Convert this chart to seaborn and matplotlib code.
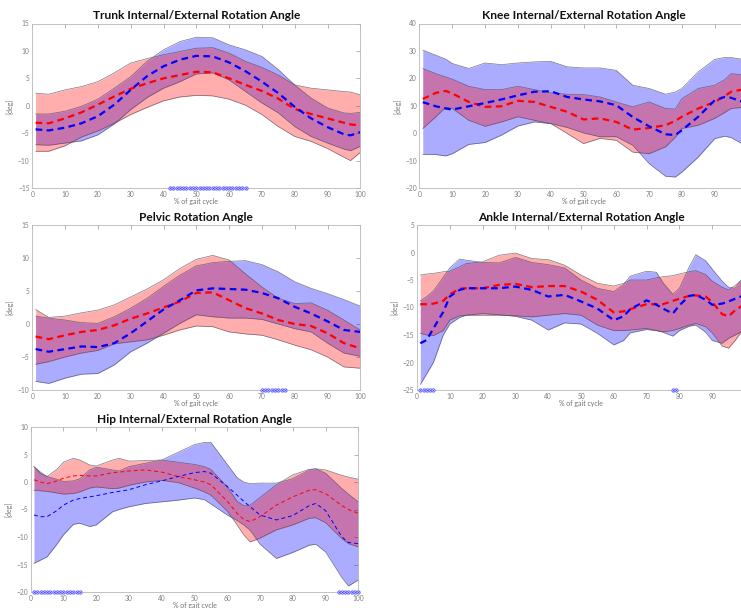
import matplotlib
matplotlib.use("Agg")
import matplotlib.pyplot as plt
import numpy as np
import pandas as pd
import seaborn as sns

# ---------------- Trunk internal/external rotation ----------------
trunk_x = [1, 5, 10, 15, 20, 25, 30, 35, 40, 45, 50, 55, 60, 65, 70, 75, 80, 85, 90, 95, 97, 100]
trunk_red_mean = [-3.1, -3.2, -2.3, -1.2, 0.2, 1.7, 3.1, 4.1, 5.0, 5.6, 6.2, 6.1, 5.0, 3.8, 2.7, 1.3, -0.6, -1.5, -2.3, -3.1, -3.4, -3.6]
trunk_red_hi = [2.3, 2.1, 2.9, 3.5, 4.4, 6.0, 7.8, 8.6, 9.3, 9.9, 10.5, 10.6, 9.6, 8.1, 7.0, 5.6, 3.8, 3.2, 2.9, 2.6, 2.5, 2.0]
trunk_red_lo = [-8.3, -8.3, -7.3, -5.7, -4.6, -3.2, -1.6, -0.3, 0.9, 1.6, 1.9, 1.8, 1.2, 0.1, -1.6, -3.8, -5.6, -6.5, -7.8, -9.4, -10.0, -8.5]
trunk_blue_mean = [-4.3, -4.5, -4.0, -3.2, -1.9, 0.2, 2.9, 5.4, 7.2, 8.4, 9.1, 9.0, 7.9, 6.3, 4.4, 2.3, -0.2, -2.3, -3.9, -5.2, -5.4, -4.8]
trunk_blue_hi = [-1.5, -1.5, -1.0, -0.1, 1.2, 3.2, 5.3, 8.1, 10.2, 11.7, 12.5, 12.4, 11.1, 10.2, 9.0, 6.6, 3.8, 1.4, -0.4, -1.3, -1.4, -1.2]
trunk_blue_lo = [-7.1, -7.2, -6.8, -6.4, -5.3, -3.3, -0.7, 1.5, 3.2, 4.4, 5.8, 6.0, 4.7, 2.6, 0.5, -1.3, -3.8, -5.6, -6.8, -7.9, -8.2, -7.4]
trunk_sig = list(range(42, 66))

# ---------------- Knee internal/external rotation ----------------
knee_x = [1, 5, 8, 10, 15, 20, 25, 30, 35, 40, 45, 50, 55, 60, 65, 70, 75, 78, 80, 85, 90, 93, 95, 100]
knee_red_mean = [12.5, 14.7, 15.4, 14.5, 11.4, 9.6, 9.8, 11.8, 11.4, 9.6, 7.8, 5.0, 5.4, 4.1, 1.3, 1.9, 2.9, 4.5, 6.0, 9.0, 11.4, 13.5, 15.1, 16.3]
knee_red_hi = [23.6, 21.7, 20.5, 19.7, 17.1, 15.9, 15.9, 17.1, 15.9, 14.7, 14.2, 14.1, 13.2, 11.4, 9.6, 11.4, 9.0, 8.8, 12.6, 16.3, 17.5, 19.5, 21.7, 21.1]
knee_red_lo = [1.7, 6.0, 9.5, 9.0, 4.7, 2.5, 4.1, 6.0, 4.7, 3.5, -0.1, -3.8, -1.9, -2.6, -6.9, -7.5, -5.0, -1.5, 1.7, 2.9, 5.4, 7.5, 9.0, 9.6]
knee_blue_mean = [11.3, 9.8, 9.0, 8.6, 9.8, 11.0, 12.3, 13.8, 15.1, 15.3, 13.2, 12.3, 11.6, 10.2, 5.9, 2.5, -0.4, -0.7, 1.1, 6.0, 12.0, 13.2, 12.9, 10.8]
knee_blue_hi = [30.3, 28.4, 27.0, 25.4, 23.6, 25.6, 25.0, 25.6, 26.0, 26.2, 24.2, 23.8, 23.8, 22.9, 17.5, 16.3, 14.2, 15.0, 16.3, 22.4, 26.9, 27.6, 27.6, 26.6]
knee_blue_lo = [-7.7, -7.8, -8.3, -7.5, -4.1, -3.4, -0.7, 2.6, 4.1, 3.5, 2.1, 0.1, -1.3, -1.3, -4.4, -11.1, -15.7, -16.0, -14.2, -8.7, -2.0, -1.1, -1.6, -5.0]
knee_sig = []

# ---------------- Pelvic rotation ----------------
pelvis_x = [1, 5, 10, 15, 20, 25, 30, 35, 40, 45, 50, 55, 60, 65, 70, 75, 80, 85, 90, 95, 100]
pelvis_red_mean = [-1.9, -2.3, -1.7, -1.2, -0.9, -0.2, 0.8, 1.6, 2.5, 3.4, 4.7, 4.8, 3.6, 2.4, 1.6, 0.6, 0.0, -0.3, -1.4, -2.9, -3.7]
pelvis_red_hi = [2.2, 1.0, 1.2, 1.7, 2.1, 2.9, 4.1, 5.3, 6.7, 8.4, 9.8, 10.4, 9.7, 7.6, 5.6, 3.9, 3.1, 3.2, 2.1, 0.6, -0.9]
pelvis_red_lo = [-6.1, -5.7, -5.0, -4.4, -4.0, -3.0, -2.7, -2.4, -1.7, -0.9, -0.3, -0.4, -1.2, -1.5, -1.7, -2.4, -3.2, -3.9, -5.0, -6.5, -6.7]
pelvis_blue_mean = [-3.8, -4.2, -3.8, -3.4, -3.5, -2.9, -1.4, 0.4, 2.2, 3.6, 5.1, 5.4, 5.3, 5.2, 4.7, 3.9, 2.6, 1.6, 0.4, -0.9, -1.2]
pelvis_blue_hi = [1.2, 0.9, 0.6, 0.2, 0.1, 1.1, 2.4, 3.9, 5.7, 7.4, 8.8, 9.3, 9.5, 9.6, 9.0, 7.9, 6.4, 5.4, 4.6, 3.7, 2.7]
pelvis_blue_lo = [-8.7, -9.0, -8.2, -7.6, -7.5, -6.2, -4.2, -2.9, -1.4, 0.1, 1.4, 1.1, 0.9, 0.9, 0.7, 0.0, -0.7, -1.2, -2.9, -4.4, -4.9]
pelvis_sig = list(range(70, 78))

# ---------------- Ankle internal/external rotation ----------------
ankle_x = [1, 3, 5, 8, 10, 13, 15, 20, 25, 30, 35, 40, 45, 50, 55, 60, 63, 65, 70, 73, 75, 78, 80, 83, 85, 88, 90, 93, 95, 97, 100]
ankle_red_mean = [-9.4, -9.4, -9.3, -8.8, -7.6, -6.6, -6.5, -6.5, -5.9, -5.7, -6.3, -6.1, -6.1, -7.1, -8.6, -10.9, -10.7, -10.3, -9.4, -9.4, -9.4, -8.8, -8.4, -7.9, -7.8, -8.0, -9.0, -11.2, -11.6, -10.5, -9.3]
ankle_red_hi = [-4.1, -3.9, -3.8, -3.5, -3.4, -2.6, -2.0, -1.7, -0.5, -0.1, -1.1, -1.3, -2.3, -4.1, -5.6, -6.1, -5.6, -5.0, -5.0, -4.6, -4.4, -4.2, -3.9, -3.5, -3.3, -4.0, -5.2, -6.3, -6.8, -6.0, -4.5]
ankle_red_lo = [-14.7, -15.0, -15.1, -14.2, -12.3, -11.5, -11.4, -11.4, -11.4, -11.5, -11.7, -11.4, -11.1, -11.4, -13.2, -14.2, -14.2, -14.1, -13.8, -14.2, -14.4, -14.2, -13.8, -13.2, -12.9, -13.5, -14.6, -17.0, -17.4, -16.0, -13.5]
ankle_blue_mean = [-16.5, -15.9, -13.8, -10.8, -8.0, -6.8, -6.5, -6.5, -6.5, -6.2, -6.8, -8.0, -7.7, -8.9, -10.2, -12.3, -11.6, -10.3, -8.7, -9.5, -10.2, -11.1, -9.6, -7.9, -7.7, -8.6, -9.5, -9.3, -8.9, -8.4, -7.7]
ankle_blue_hi = [-8.8, -8.0, -7.0, -4.5, -2.8, -1.2, -1.4, -1.8, -1.9, -0.9, -1.8, -2.2, -2.8, -5.0, -6.5, -7.1, -5.8, -4.3, -3.4, -3.6, -5.5, -7.6, -6.5, -2.6, -0.4, -1.5, -3.0, -5.2, -6.3, -6.5, -4.0]
ankle_blue_lo = [-24.0, -22.0, -20.0, -15.0, -13.0, -11.8, -11.4, -11.1, -11.3, -11.6, -12.3, -14.1, -12.8, -13.0, -14.7, -16.8, -16.0, -14.6, -14.0, -14.2, -14.5, -15.2, -14.2, -13.4, -13.2, -14.5, -16.0, -16.5, -15.6, -15.0, -14.0]
ankle_sig = [1, 2, 3, 4, 5, 78, 79]

# ---------------- Hip internal/external rotation ----------------
hip_x = [1, 3, 5, 8, 10, 13, 15, 18, 20, 25, 27, 30, 35, 40, 45, 50, 53, 55, 60, 63, 65, 67, 70, 75, 80, 85, 87, 90, 95, 97, 100]
hip_red_mean = [0.4, 0.0, -0.3, 0.2, 0.7, 1.1, 1.2, 1.1, 1.1, 1.7, 1.8, 2.0, 2.2, 1.8, 1.0, 0.4, 0.0, -0.5, -3.5, -5.7, -6.8, -7.2, -6.3, -4.2, -2.7, -1.5, -1.4, -2.1, -4.3, -5.0, -5.7]
hip_red_hi = [2.8, 1.5, 1.0, 2.3, 3.6, 4.3, 4.0, 3.1, 2.9, 4.0, 4.3, 3.8, 3.9, 4.0, 3.6, 3.2, 2.8, 2.3, -0.9, -3.5, -4.3, -4.2, -2.8, -0.5, 1.3, 2.3, 2.4, 2.2, 1.2, 0.9, 0.5]
hip_red_lo = [-1.5, -1.6, -1.7, -2.0, -2.2, -2.1, -1.8, -1.1, -0.9, -1.2, -1.1, -0.6, 0.0, 0.3, -0.1, -1.1, -1.8, -2.4, -5.3, -7.8, -9.6, -10.9, -10.2, -8.7, -7.8, -6.6, -6.5, -7.4, -10.3, -11.2, -11.8]
hip_blue_mean = [-6.0, -6.3, -6.3, -5.2, -4.2, -3.3, -3.0, -2.7, -2.5, -1.9, -1.7, -1.4, -0.5, 0.2, 1.0, 1.7, 1.9, 1.6, -0.8, -2.4, -3.5, -4.5, -6.0, -6.9, -6.1, -4.3, -3.9, -5.2, -10.0, -11.0, -11.2]
hip_blue_hi = [2.8, 1.8, 1.0, 0.5, 0.1, 0.2, 0.6, 2.2, 2.7, 2.2, 2.0, 2.8, 3.4, 4.0, 5.4, 6.8, 7.2, 7.2, 3.2, 0.8, 0.0, -0.3, -0.2, -0.2, 0.6, 2.2, 2.4, 1.6, -1.2, -2.2, -3.6]
hip_blue_lo = [-14.8, -14.2, -13.6, -11.3, -9.6, -7.7, -7.5, -8.1, -7.8, -5.4, -5.0, -4.5, -3.9, -3.6, -3.3, -2.9, -3.2, -4.0, -6.0, -7.0, -7.8, -8.8, -11.3, -13.9, -12.8, -11.5, -11.3, -12.7, -17.4, -18.9, -17.8]
hip_sig = list(range(1, 16)) + list(range(94, 101))

titles = ["Trunk Internal/External Rotation Angle",
          "Knee Internal/External Rotation Angle",
          "Pelvic Rotation Angle",
          "Ankle Internal/External Rotation Angle",
          "Hip Internal/External Rotation Angle"]
x_ticks = [0, 10, 20, 30, 40, 50, 60, 70, 80, 90, 100]
x_label = "% of gait cycle"
y_label = "[deg]"

sns.set_theme(style="white")
plt.rcParams["font.family"] = ["Lato", "DejaVu Sans"]

W, H = 741, 608
fig = plt.figure(figsize=(W / 100, H / 100), dpi=100)


def px_axes(left, top, width, height):
    return fig.add_axes([left / W, 1 - (top + height) / H, width / W, height / H])


panels = [
    dict(box=(32.3, 23.5, 328, 164.5), ylim=(-15, 15), ystep=5, lw=1.6, edge=False,
         x=trunk_x, rm=trunk_red_mean, rh=trunk_red_hi, rl=trunk_red_lo,
         bm=trunk_blue_mean, bh=trunk_blue_hi, bl=trunk_blue_lo, sig=trunk_sig),
    dict(box=(419.5, 23.5, 328, 164.5), ylim=(-20, 40), ystep=10, lw=1.6, edge=True,
         x=knee_x, rm=knee_red_mean, rh=knee_red_hi, rl=knee_red_lo,
         bm=knee_blue_mean, bh=knee_blue_hi, bl=knee_blue_lo, sig=knee_sig),
    dict(box=(32.3, 225, 328, 165), ylim=(-10, 15), ystep=5, lw=1.6, edge=False,
         x=pelvis_x, rm=pelvis_red_mean, rh=pelvis_red_hi, rl=pelvis_red_lo,
         bm=pelvis_blue_mean, bh=pelvis_blue_hi, bl=pelvis_blue_lo, sig=pelvis_sig),
    dict(box=(417, 225, 328, 165), ylim=(-25, 5), ystep=5, lw=1.6, edge=True,
         x=ankle_x, rm=ankle_red_mean, rh=ankle_red_hi, rl=ankle_red_lo,
         bm=ankle_blue_mean, bh=ankle_blue_hi, bl=ankle_blue_lo, sig=ankle_sig),
    dict(box=(30.7, 427, 327.6, 165), ylim=(-20, 10), ystep=5, lw=0.7, edge=False,
         x=hip_x, rm=hip_red_mean, rh=hip_red_hi, rl=hip_red_lo,
         bm=hip_blue_mean, bh=hip_blue_hi, bl=hip_blue_lo, sig=hip_sig),
]

RED = "#ff0000"
BLUE = "#0000ff"
EDGE = "#4a4a5a"

for title, p in zip(titles, panels):
    ax = px_axes(*p["box"])
    x = np.asarray(p["x"], dtype=float)

    # standard-deviation bands (blue beneath, red on top)
    ax.fill_between(x, p["bl"], p["bh"], color=BLUE, alpha=0.33, lw=0, zorder=1)
    ax.fill_between(x, p["rl"], p["rh"], color=RED, alpha=0.32, lw=0, zorder=2)
    for key in ("bl", "bh", "rl", "rh"):
        ax.plot(x, p[key], color=EDGE, lw=0.5, alpha=0.75, zorder=3)

    # group means as dashed lines
    df = pd.DataFrame({"x": np.concatenate([x, x]),
                       "angle": np.concatenate([p["rm"], p["bm"]]),
                       "group": ["red"] * len(x) + ["blue"] * len(x)})
    dash = (0, (3.0, 2.0)) if p["lw"] > 1 else (0, (4.0, 3.0))
    for grp, col in (("red", RED), ("blue", BLUE)):
        sns.lineplot(data=df[df["group"] == grp], x="x", y="angle", color=col,
                     lw=p["lw"], linestyle=dash, estimator=None, sort=False,
                     errorbar=None, ax=ax, zorder=4)

    # significant-difference markers along the bottom axis
    if p["sig"]:
        ymark = np.full(len(p["sig"]), p["ylim"][0], dtype=float)
        ax.plot(p["sig"], ymark, ls="none", marker="o", ms=2.6,
                mfc="#c4c4ff", mec="#7070ff", mew=0.45, clip_on=False, zorder=6)
        ax.plot(p["sig"], ymark, ls="none", marker="x", ms=1.8,
                mec="#5050ff", mew=0.4, clip_on=False, zorder=7)

    ax.set_xlim(0, 100)
    ax.set_ylim(*p["ylim"])
    ax.set_xticks(x_ticks)
    # the last label of the right-hand column falls past the figure edge
    ax.set_xticklabels([str(t) if not (p["edge"] and t == 100) else "" for t in x_ticks])
    ax.set_yticks(np.arange(p["ylim"][0], p["ylim"][1] + 0.1, p["ystep"]))
    ax.tick_params(direction="in", top=True, right=True, length=3, width=0.5,
                   color="0.6", labelcolor="0.5", labelsize=4.8, pad=2)
    for s in ax.spines.values():
        s.set_color("0.72")
        s.set_linewidth(0.6)
    ax.set_xlabel(x_label, fontsize=5.0, color="0.45", labelpad=0.5)
    ax.set_ylabel(y_label, fontsize=5.0, color="0.45", labelpad=3)
    ax.set_title(title, fontsize=8.6, fontweight="bold", color="#111111", pad=3.0)

fig.savefig("out.png", dpi=100)
